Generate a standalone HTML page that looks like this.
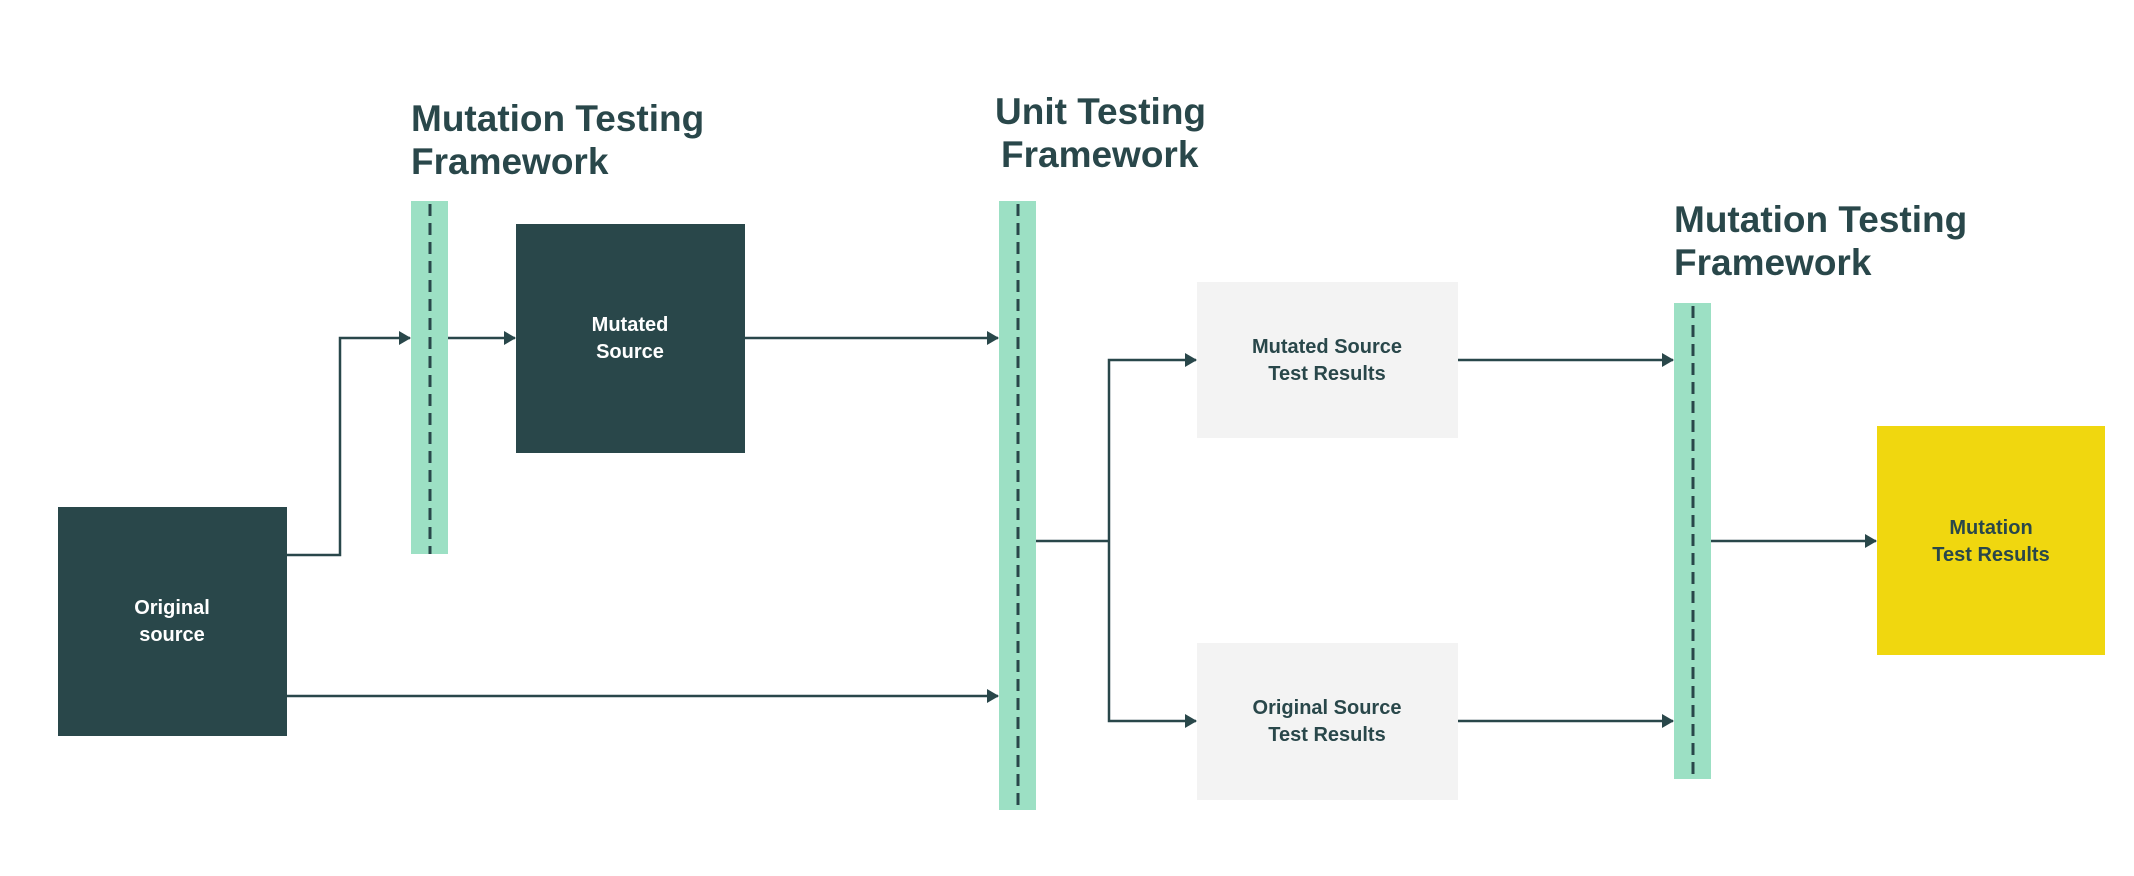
<!DOCTYPE html>
<html><head><meta charset="utf-8"><style>
html,body{margin:0;padding:0;background:#fff;}
svg{display:block;}
text{font-family:"Liberation Sans",Arial,sans-serif;font-weight:bold;}
</style></head><body>
<svg width="2134" height="876" viewBox="0 0 2134 876" xmlns="http://www.w3.org/2000/svg">
<defs>
<marker id="a" markerWidth="12" markerHeight="14" refX="11" refY="7" orient="auto" markerUnits="userSpaceOnUse">
<path d="M0,0 L12,7 L0,14 z" fill="#29474a"/>
</marker>
</defs>
<g fill="#29474a" font-size="37">
<text x="411" y="131">Mutation Testing</text>
<text x="411" y="174">Framework</text>
<text x="995" y="124">Unit Testing</text>
<text x="1001" y="167">Framework</text>
<text x="1674" y="232">Mutation Testing</text>
<text x="1674" y="275">Framework</text>
</g>
<rect x="411" y="201" width="37" height="353" fill="#9ce0c4"/>
<rect x="999" y="201" width="37" height="609" fill="#9ce0c4"/>
<rect x="1674" y="303" width="37" height="476" fill="#9ce0c4"/>
<g stroke="#29474a" stroke-width="3" stroke-dasharray="12,7">
<line x1="430" y1="204" x2="430" y2="554"/>
<line x1="1018" y1="204" x2="1018" y2="810"/>
<line x1="1693" y1="306" x2="1693" y2="779"/>
</g>
<rect x="58" y="507" width="229" height="229" fill="#29474a"/>
<rect x="516" y="224" width="229" height="229" fill="#29474a"/>
<rect x="1197" y="282" width="261" height="156" fill="#f3f3f3"/>
<rect x="1197" y="643" width="261" height="157" fill="#f3f3f3"/>
<rect x="1877" y="426" width="228" height="229" fill="#f0d70f"/>
<g font-size="20" text-anchor="middle">
<text x="172" y="614" fill="#fff">Original</text>
<text x="172" y="641" fill="#fff">source</text>
<text x="630" y="331" fill="#fff">Mutated</text>
<text x="630" y="358" fill="#fff">Source</text>
<text x="1327" y="353" fill="#29474a">Mutated Source</text>
<text x="1327" y="380" fill="#29474a">Test Results</text>
<text x="1327" y="714" fill="#29474a">Original Source</text>
<text x="1327" y="741" fill="#29474a">Test Results</text>
<text x="1991" y="534" fill="#29474a">Mutation</text>
<text x="1991" y="561" fill="#29474a">Test Results</text>
</g>
<g stroke="#29474a" stroke-width="2.5" fill="none">
<polyline points="287,555 340,555 340,338 410,338" marker-end="url(#a)"/>
<line x1="448" y1="338" x2="515" y2="338" marker-end="url(#a)"/>
<line x1="745" y1="338" x2="998" y2="338" marker-end="url(#a)"/>
<line x1="287" y1="696" x2="998" y2="696" marker-end="url(#a)"/>
<line x1="1036" y1="541" x2="1109" y2="541"/>
<polyline points="1109,541 1109,360 1196,360" marker-end="url(#a)"/>
<polyline points="1109,541 1109,721 1196,721" marker-end="url(#a)"/>
<line x1="1458" y1="360" x2="1673" y2="360" marker-end="url(#a)"/>
<line x1="1458" y1="721" x2="1673" y2="721" marker-end="url(#a)"/>
<line x1="1711" y1="541" x2="1876" y2="541" marker-end="url(#a)"/>
</g>
</svg>
</body></html>
